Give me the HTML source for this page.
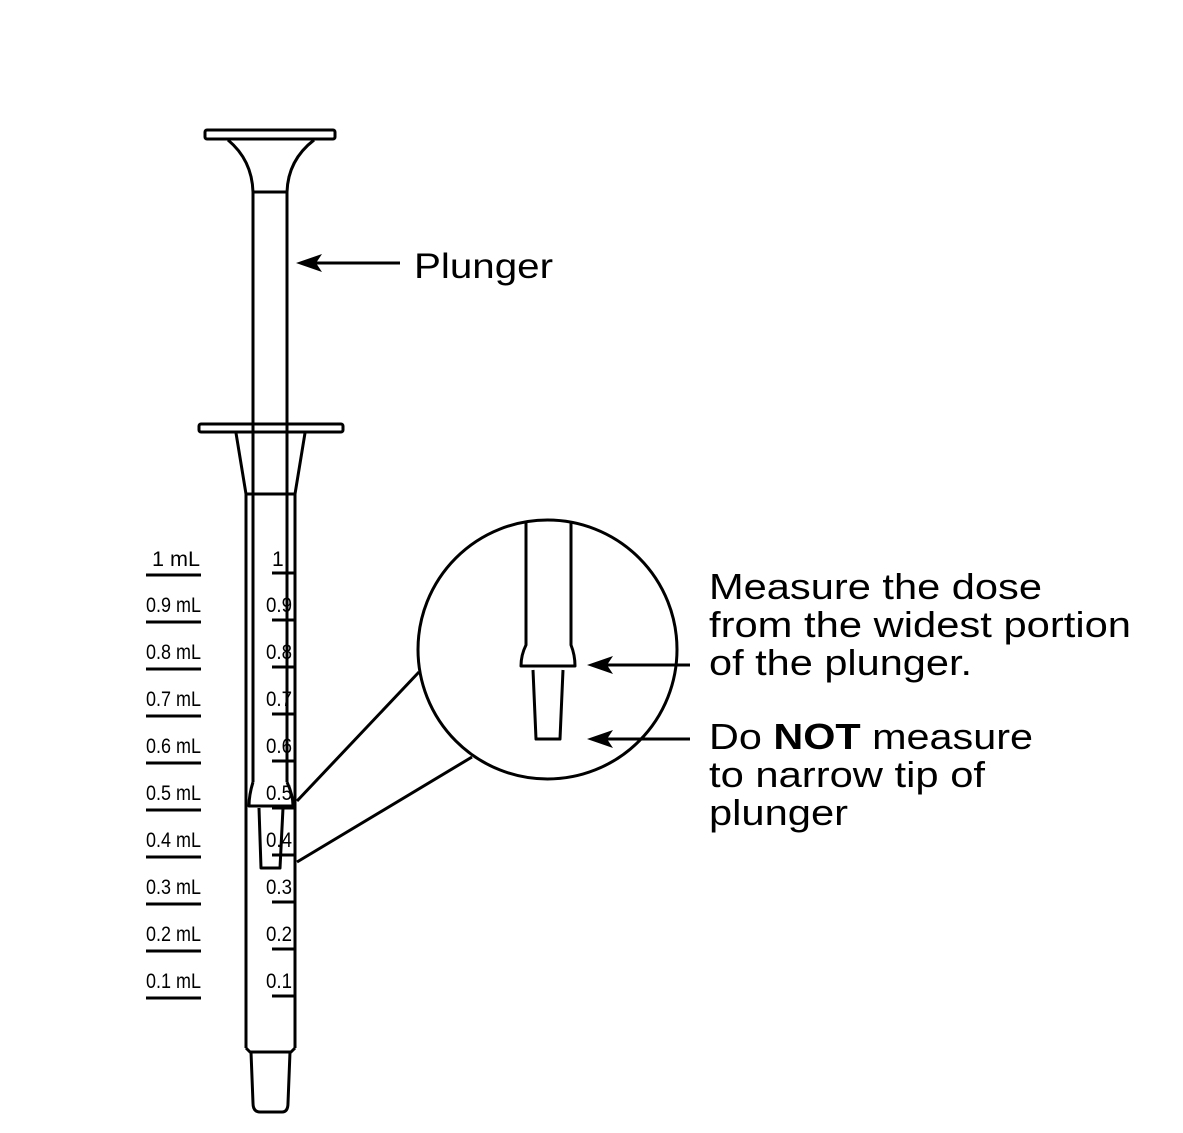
<!DOCTYPE html>
<html><head><meta charset="utf-8"><style>
html,body{margin:0;padding:0;background:#fff;}
svg{display:block}
text{font-family:"Liberation Sans",Arial,sans-serif;fill:#000}
.s{font-size:21px}
</style></head><body>
<svg width="1183" height="1133" viewBox="0 0 1183 1133" xmlns="http://www.w3.org/2000/svg">
<g fill="none" stroke="#000" stroke-width="3" stroke-linejoin="round">
<rect x="205" y="130" width="130" height="9" rx="2"/>
<path d="M228 140 Q252 160 253 192 M314 140 Q288 160 287 192"/>
<line x1="253" y1="192" x2="287" y2="192"/>
<line x1="253" y1="192" x2="253" y2="782"/>
<line x1="287" y1="192" x2="287" y2="782"/>
<path d="M253 782 Q249 795 249 806 L293 806 Q293 795 287 782"/>
<path d="M259 808 L261 868 L280 868 L283 808"/>
<rect x="199" y="424" width="144" height="8" rx="2"/>
<path d="M236 433 L246 494 M305 433 L295 494"/>
<line x1="246" y1="494" x2="295" y2="494"/>
<line x1="246" y1="494" x2="246" y2="1048"/>
<line x1="295" y1="494" x2="295" y2="1048"/>
<path d="M246 1048 L250 1052 L291 1052 L295 1048"/>
<path d="M251 1052 L253 1103 Q253 1112 260 1112 L282 1112 Q288 1112 288 1103 L290 1052"/>
<circle cx="547.5" cy="649.5" r="129.5"/>
<path d="M526 522 L526 645 Q521 655 521 666 L575 666 Q575 655 571 645 L571 522"/>
<path d="M533 670 L536 739 L560 739 L563 670"/>
<line x1="419" y1="672" x2="297" y2="801"/>
<line x1="472" y1="757" x2="297" y2="862"/>
<line x1="310" y1="263" x2="400" y2="263"/>
<line x1="605" y1="665" x2="690" y2="665"/>
<line x1="605" y1="739" x2="690" y2="739"/>
</g>
<g fill="#000">
<polygon points="296,263 322,254 316,263 322,272"/>
<polygon points="587,665 613,656 607,665 613,674"/>
<polygon points="587,739 613,730 607,739 613,748"/>
</g>
<g stroke="#000" stroke-width="3">
<line x1="146" y1="575" x2="201" y2="575"/><line x1="272" y1="573" x2="295" y2="573"/>
<line x1="146" y1="622" x2="201" y2="622"/><line x1="272" y1="620" x2="295" y2="620"/>
<line x1="146" y1="669" x2="201" y2="669"/><line x1="272" y1="667" x2="295" y2="667"/>
<line x1="146" y1="716" x2="201" y2="716"/><line x1="272" y1="714" x2="295" y2="714"/>
<line x1="146" y1="763" x2="201" y2="763"/><line x1="272" y1="761" x2="295" y2="761"/>
<line x1="146" y1="810" x2="201" y2="810"/><line x1="272" y1="808" x2="295" y2="808"/>
<line x1="146" y1="857" x2="201" y2="857"/><line x1="272" y1="855" x2="295" y2="855"/>
<line x1="146" y1="904" x2="201" y2="904"/><line x1="272" y1="902" x2="295" y2="902"/>
<line x1="146" y1="951" x2="201" y2="951"/><line x1="272" y1="949" x2="295" y2="949"/>
<line x1="146" y1="998" x2="201" y2="998"/><line x1="272" y1="996" x2="295" y2="996"/>
</g>
<g class="s">
<text x="152" y="566" textLength="48" lengthAdjust="spacingAndGlyphs">1  mL</text><text x="272" y="566">1</text>
<text x="146" y="612" textLength="55" lengthAdjust="spacingAndGlyphs">0.9 mL</text><text x="266" y="612" textLength="26" lengthAdjust="spacingAndGlyphs">0.9</text>
<text x="146" y="659" textLength="55" lengthAdjust="spacingAndGlyphs">0.8 mL</text><text x="266" y="659" textLength="26" lengthAdjust="spacingAndGlyphs">0.8</text>
<text x="146" y="706" textLength="55" lengthAdjust="spacingAndGlyphs">0.7 mL</text><text x="266" y="706" textLength="26" lengthAdjust="spacingAndGlyphs">0.7</text>
<text x="146" y="753" textLength="55" lengthAdjust="spacingAndGlyphs">0.6 mL</text><text x="266" y="753" textLength="26" lengthAdjust="spacingAndGlyphs">0.6</text>
<text x="146" y="800" textLength="55" lengthAdjust="spacingAndGlyphs">0.5 mL</text><text x="266" y="800" textLength="26" lengthAdjust="spacingAndGlyphs">0.5</text>
<text x="146" y="847" textLength="55" lengthAdjust="spacingAndGlyphs">0.4 mL</text><text x="266" y="847" textLength="26" lengthAdjust="spacingAndGlyphs">0.4</text>
<text x="146" y="894" textLength="55" lengthAdjust="spacingAndGlyphs">0.3 mL</text><text x="266" y="894" textLength="26" lengthAdjust="spacingAndGlyphs">0.3</text>
<text x="146" y="941" textLength="55" lengthAdjust="spacingAndGlyphs">0.2 mL</text><text x="266" y="941" textLength="26" lengthAdjust="spacingAndGlyphs">0.2</text>
<text x="146" y="988" textLength="55" lengthAdjust="spacingAndGlyphs">0.1 mL</text><text x="266" y="988" textLength="26" lengthAdjust="spacingAndGlyphs">0.1</text>
</g>
<text x="414" y="278" font-size="35" textLength="139" lengthAdjust="spacingAndGlyphs">Plunger</text>
<g font-size="36">
<text x="709" y="599" textLength="333" lengthAdjust="spacingAndGlyphs">Measure the dose</text>
<text x="709" y="637" textLength="422" lengthAdjust="spacingAndGlyphs">from the widest portion</text>
<text x="709" y="675" textLength="263" lengthAdjust="spacingAndGlyphs">of the plunger.</text>
<text x="709" y="749" textLength="324" lengthAdjust="spacingAndGlyphs">Do <tspan font-weight="bold">NOT</tspan> measure</text>
<text x="709" y="787" textLength="276" lengthAdjust="spacingAndGlyphs">to narrow tip of</text>
<text x="709" y="825" textLength="139" lengthAdjust="spacingAndGlyphs">plunger</text>
</g>
</svg>
</body></html>
